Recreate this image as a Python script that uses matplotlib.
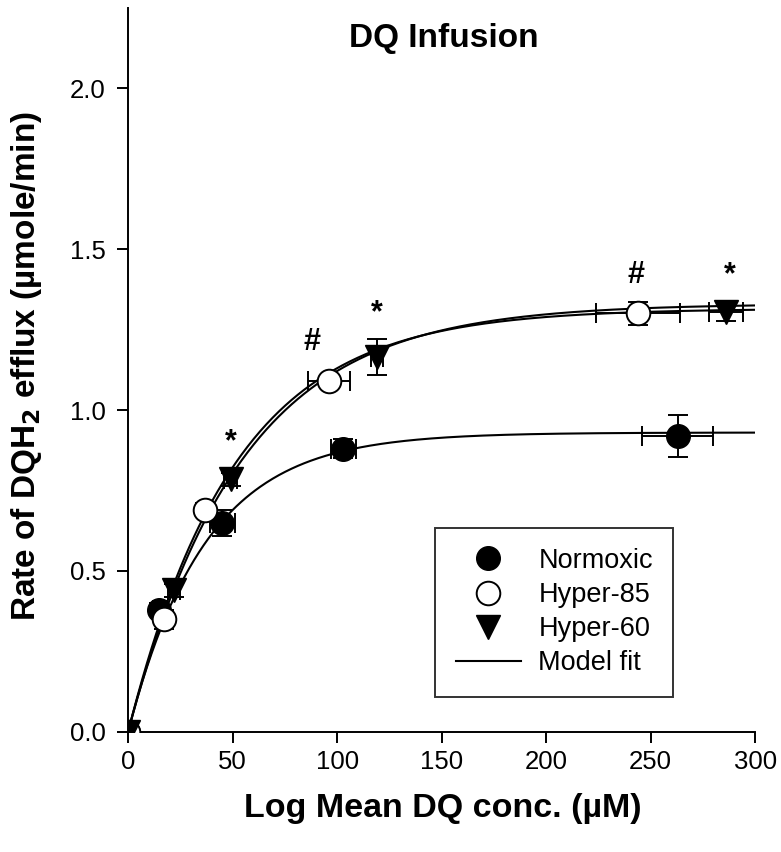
import numpy as np
import matplotlib
matplotlib.use("Agg")
import matplotlib.pyplot as plt
from matplotlib.lines import Line2D

plt.rcParams['font.family'] = ['Liberation Sans', 'DejaVu Sans']

# measured points: x = mean DQ conc (uM), y = DQH2 efflux rate
norm_x = [0, 15, 45, 103, 263]
norm_y = [0.0, 0.38, 0.65, 0.88, 0.92]
norm_xerr = [1, 3, 6, 6, 17]
norm_yerr = [0.01, 0.02, 0.04, 0.03, 0.066]

h85_x = [0, 17, 37, 96, 244]
h85_y = [0.0, 0.35, 0.69, 1.09, 1.30]
h85_xerr = [1, 3, 3, 10, 20]
h85_yerr = [0.01, 0.03, 0.02, 0.01, 0.037]

h60_x = [0, 22, 49, 119, 286]
h60_y = [0.0, 0.44, 0.785, 1.165, 1.305]
h60_xerr = [1, 3, 3, 3, 8]
h60_yerr = [0.01, 0.02, 0.02, 0.055, 0.03]

# model fit parameters (saturating curve)
fit_vmax = [0.93, 1.315, 1.33]
fit_k = [37, 51, 54]

# significance marks
mark_text = ['*', '#', '*', '#', '*']
mark_x = [49, 88, 119, 243, 288]
mark_y = [0.90, 1.21, 1.30, 1.42, 1.42]

fig = plt.figure(figsize=(7.81, 8.52), dpi=100)
ax = fig.add_axes([0.164, 0.141, 0.803, 0.85])

xx = np.linspace(0, 300, 400)
for v, k in zip(fit_vmax, fit_k):
    ax.plot(xx, v * (1 - np.exp(-xx / k)), color='black', lw=1.5, zorder=2)

ebkw = dict(ecolor='black', elinewidth=1.4, capsize=7, capthick=1.4, ls='none', zorder=3)
ax.errorbar(norm_x, norm_y, xerr=norm_xerr, yerr=norm_yerr, fmt='o', ms=17,
            mfc='black', mec='black', **ebkw)
ax.errorbar(h85_x, h85_y, xerr=h85_xerr, yerr=h85_yerr, fmt='o', ms=17,
            mfc='white', mec='black', mew=1.4, **ebkw)
ax.errorbar(h60_x, h60_y, xerr=h60_xerr, yerr=h60_yerr, fmt='v', ms=17,
            mfc='black', mec='black', **ebkw)

for t, x, y in zip(mark_text, mark_x, mark_y):
    ax.text(x, y, t, ha='center', va='center', fontsize=22, fontweight='bold')

ax.set_xlim(0, 300)
ax.set_ylim(0, 2.25)
ax.set_xticks(np.arange(0, 301, 50))
ax.set_yticks([0.0, 0.5, 1.0, 1.5, 2.0])
ax.set_yticklabels(['0.0', '0.5', '1.0', '1.5', '2.0'])
ax.tick_params(direction='out', length=8, width=1.4, labelsize=18.5)
ax.tick_params(axis='y', pad=8)
ax.tick_params(axis='x', pad=5)
for s in ['top', 'right']:
    ax.spines[s].set_visible(False)
for s in ['left', 'bottom']:
    ax.spines[s].set_linewidth(1.4)

ax.text(0.504, 0.958, 'DQ Infusion', transform=ax.transAxes, ha='center',
        va='center', fontsize=24, fontweight='bold')
ax.set_xlabel('Log Mean DQ conc. (\u00b5M)', fontsize=24.5, fontweight='bold')
ax.xaxis.set_label_coords(0.502, -0.085)
ax.set_ylabel('Rate of DQH$_\\mathbf{2}$ efflux (\u00b5mole/min)', fontsize=24,
              fontweight='bold')
ax.yaxis.set_label_coords(-0.134, 0.505)

handles = [
    Line2D([], [], marker='o', ls='none', ms=17, mfc='black', mec='black'),
    Line2D([], [], marker='o', ls='none', ms=17, mfc='white', mec='black', mew=1.4),
    Line2D([], [], marker='v', ls='none', ms=17, mfc='black', mec='black'),
    Line2D([], [], color='black', lw=1.5),
]
leg = ax.legend(handles, ['Normoxic', 'Hyper-85', 'Hyper-60', 'Model fit'],
                loc='upper left', bbox_to_anchor=(0.49, 0.282),
                fontsize=19.5, frameon=True, fancybox=False, edgecolor='black',
                handlelength=2.4, handletextpad=0.65, labelspacing=0.3,
                borderpad=0.75, borderaxespad=0)
leg.get_frame().set_linewidth(1.4)

fig.savefig('out.png', dpi=100)
